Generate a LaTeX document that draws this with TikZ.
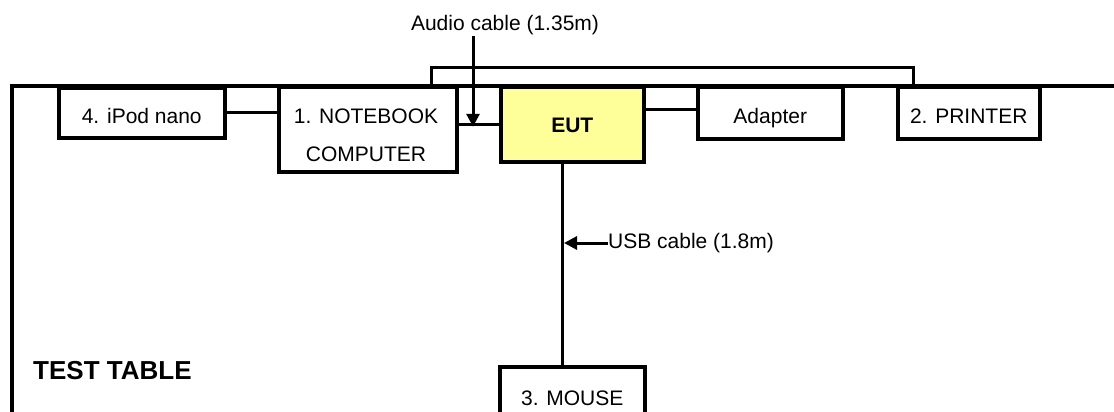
\documentclass[tikz,border=0pt]{standalone}
\usepackage{fontspec}
\setmainfont{Liberation Sans}
\usetikzlibrary{arrows.meta}
\definecolor{eutyellow}{HTML}{FFFF99}
\begin{document}
\begin{tikzpicture}[x=1pt,y=-1pt,
  box/.style={draw,line width=3.5pt,fill=white,inner sep=0pt,anchor=north west,
              text height=21pt,text depth=0pt,
              font=\fontsize{21}{25}\selectfont},
  lbl/.style={inner sep=0pt,font=\fontsize{21}{25}\selectfont},
  tableline/.style={line width=4pt},
  wire/.style={line width=3pt},
  arr/.style={line width=3pt,-{Triangle[length=13pt,width=13pt]}}]
\useasboundingbox (0,0) rectangle (1114,412);
\clip (0,0) rectangle (1114,412);
% test table outline
\coordinate (tr) at (1125,86);
\coordinate (tl) at (12,86);
\coordinate (tb) at (12,430);
\draw[tableline] (tr) -- (tl) -- (tb);
% bracket cable between notebook and printer
\coordinate (brl) at (431,86);
\coordinate (brr) at (913,86);
\draw[wire] (brl) -- (431,68) -- (913,68) -- (brr);
% boxes
\node[box,minimum width=166pt,minimum height=50pt] (ipod) at (57,86) {4. iPod nano};
\node[box,minimum width=178pt,minimum height=84pt] (nb) at (277,86) {};
\node[lbl,align=center,font=\fontsize{21}{38}\selectfont] (nblbl) at (366,135) {1. NOTEBOOK\\COMPUTER};
\node[box,fill=eutyellow,minimum width=143pt,minimum height=74pt,text height=15pt,
      font=\fontsize{21}{25}\selectfont\bfseries] (eut) at (499,86) {EUT};
\node[box,minimum width=145pt,minimum height=51pt] (adapter) at (696,86) {Adapter};
\node[box,minimum width=142pt,minimum height=51pt] (printer) at (896,86) {2. PRINTER};
\node[box,minimum width=145pt,minimum height=62pt,text height=15pt] (mouse) at (498,365) {3. MOUSE};
% connectors
\draw[wire] (ipod.east) -- (ipod.east -| nb.west);
\draw[wire] (eut.west) -- (eut.west -| nb.east);
\draw[wire] ([yshift=3.5pt]adapter.west) -- ([yshift=3.5pt]adapter.west -| eut.east);
\coordinate (usbx) at (562,0);
\draw[wire] (eut.south -| usbx) -- (mouse.north -| usbx);
% audio cable label and arrow
\node[lbl,anchor=base] (audiolbl) at (505,31) {Audio cable (1.35m)};
\coordinate (audiotop) at (473,36);
\draw[arr] (audiotop) -- ([yshift=-2pt]audiotop |- eut.west);
% usb cable label and arrow
\node[lbl,anchor=base west] (usblbl) at (608,248) {USB cable (1.8m)};
\coordinate (usbtip) at (564,243);
\draw[arr] (usbtip -| usblbl.west) -- (usbtip);
% table title
\node[inner sep=0pt,anchor=base west,font=\fontsize{26}{30}\selectfont\bfseries] (title) at (33,379) {TEST TABLE};
\end{tikzpicture}
\end{document}
